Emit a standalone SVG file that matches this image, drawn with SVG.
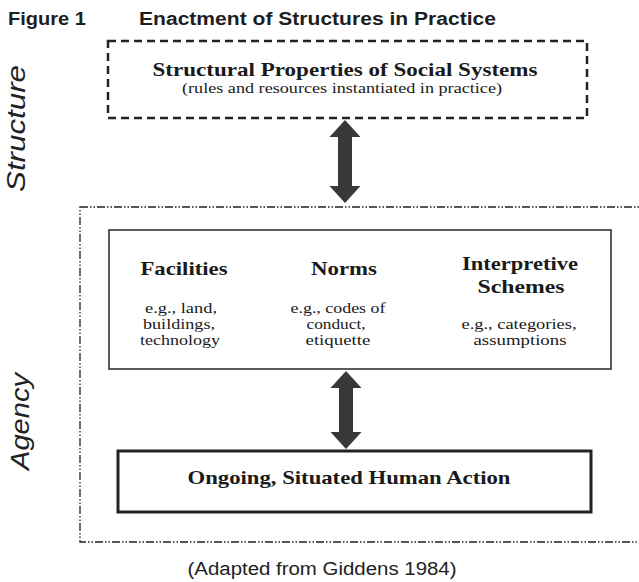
<svg xmlns="http://www.w3.org/2000/svg" width="639" height="582" viewBox="0 0 639 582">
<style>
.title{font-family:"Liberation Sans",Arial,sans-serif;font-weight:bold;font-size:18px;fill:#1e1e1e}
.side{font-family:"Liberation Sans",Arial,sans-serif;font-style:italic;font-size:25px;fill:#222;text-anchor:middle}
.head{font-family:"Liberation Serif","Times New Roman",serif;font-weight:bold;font-size:19px;fill:#1a1a1a;text-anchor:middle}
.sub{font-family:"Liberation Serif","Times New Roman",serif;font-size:15px;fill:#1a1a1a;text-anchor:middle}
.note{font-family:"Liberation Sans",Arial,sans-serif;font-size:18px;fill:#222;text-anchor:middle}
.arrow{fill:#383838}
</style>
<rect width="639" height="582" fill="#ffffff"/>
<g id="title">
<text class="title" x="8" y="25" textLength="78" lengthAdjust="spacingAndGlyphs">Figure 1</text>
<text class="title" x="139" y="25" textLength="357" lengthAdjust="spacingAndGlyphs">Enactment of Structures in Practice</text>
</g>
<g id="label-structure">
<text class="side" transform="translate(25,128.5) rotate(-90)" textLength="127" lengthAdjust="spacingAndGlyphs">Structure</text>
</g>
<g id="label-agency">
<text class="side" transform="translate(29,421.5) rotate(-90)" font-size="26" textLength="97" lengthAdjust="spacingAndGlyphs">Agency</text>
</g>
<g id="structure-node">
<rect x="108" y="41" width="479" height="77" fill="none" stroke="#222" stroke-width="2.5" stroke-dasharray="8 5"/>
<text class="head" x="345" y="76" textLength="385" lengthAdjust="spacingAndGlyphs">Structural Properties of Social Systems</text>
<text class="sub" x="342" y="93" textLength="320" lengthAdjust="spacingAndGlyphs">(rules and resources instantiated in practice)</text>
</g>
<g id="agency-region">
<rect x="80" y="207" width="575" height="335" fill="none" stroke="#222" stroke-width="1.3" stroke-dasharray="8 2 1.5 2 1.5 2"/>
</g>
<g id="modalities-node">
<rect x="109" y="230" width="502" height="139" fill="none" stroke="#333" stroke-width="1.6"/>
<text class="head" x="184" y="275" textLength="87" lengthAdjust="spacingAndGlyphs">Facilities</text>
<text class="sub" x="181" y="313" textLength="72" lengthAdjust="spacingAndGlyphs">e.g., land,</text>
<text class="sub" x="179" y="329" textLength="72" lengthAdjust="spacingAndGlyphs">buildings,</text>
<text class="sub" x="180" y="345" textLength="80" lengthAdjust="spacingAndGlyphs">technology</text>
<text class="head" x="344" y="275" textLength="66" lengthAdjust="spacingAndGlyphs">Norms</text>
<text class="sub" x="338" y="313" textLength="95" lengthAdjust="spacingAndGlyphs">e.g., codes of</text>
<text class="sub" x="336" y="329" textLength="59" lengthAdjust="spacingAndGlyphs">conduct,</text>
<text class="sub" x="338" y="345" textLength="65" lengthAdjust="spacingAndGlyphs">etiquette</text>
<text class="head" x="520" y="270" textLength="116" lengthAdjust="spacingAndGlyphs">Interpretive</text>
<text class="head" x="521" y="293" textLength="87" lengthAdjust="spacingAndGlyphs">Schemes</text>
<text class="sub" x="519" y="329" textLength="115" lengthAdjust="spacingAndGlyphs">e.g., categories,</text>
<text class="sub" x="520" y="345" textLength="93" lengthAdjust="spacingAndGlyphs">assumptions</text>
</g>
<g id="action-node">
<rect x="118" y="451" width="473" height="61" fill="none" stroke="#222" stroke-width="3"/>
<text class="head" x="349" y="484" textLength="323" lengthAdjust="spacingAndGlyphs">Ongoing, Situated Human Action</text>
</g>
<g id="connectors">
<path class="arrow" d="M345,120 L360.5,137 L352,137 L352,186 L360.5,186 L345,203 L329.5,186 L338,186 L338,137 L329.5,137 Z"/>
<path class="arrow" d="M346,371 L361.5,388 L353,388 L353,432 L361.5,432 L346,449 L330.5,432 L339,432 L339,388 L330.5,388 Z"/>
</g>
<g id="caption">
<text class="note" x="322" y="575" textLength="269" lengthAdjust="spacingAndGlyphs">(Adapted from Giddens 1984)</text>
</g>
</svg>
